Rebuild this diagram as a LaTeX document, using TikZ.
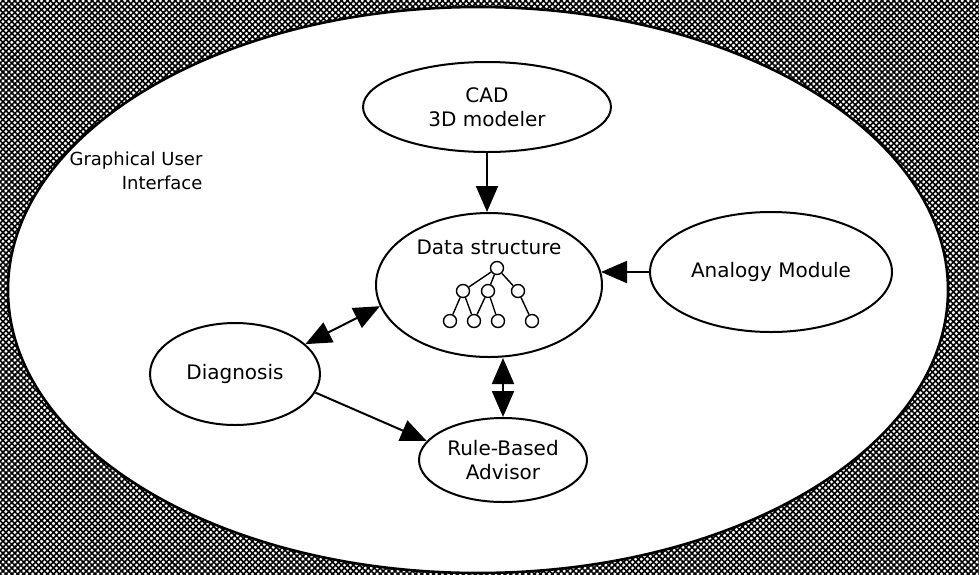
\documentclass[tikz,border=0pt]{standalone}
\usepackage{fontspec}
\setmainfont{DejaVu Sans}
\usetikzlibrary{positioning, arrows.meta, shapes.geometric, patterns.meta}

\begin{document}
\begin{tikzpicture}[
    x=0.5pt, y=-0.5pt,
    every node/.style={font=\fontsize{10}{12}\selectfont},
    module/.style={draw, ellipse, line width=1pt, fill=white,
                   inner sep=0pt, align=center},
    leaf/.style={draw, circle, line width=0.7pt, fill=white,
                 minimum size=6.5pt, inner sep=0pt},
    link/.style={line width=1pt},
    >={Triangle[length=13pt, width=11pt]},
  ]
  % hatched background
  \useasboundingbox (0,0) rectangle (979,574);
  \fill[white] (0,0) rectangle (979,574);
  \fill[pattern={Hatch[angle=45, distance=2.1pt, line width=0.8pt]}]
    (0,0) rectangle (979,574);

  \node[module, line width=1.3pt, minimum width=470pt,
        minimum height=283pt] (gui) at (478,290) {};
  \node[align=right, font=\fontsize{9}{12}\selectfont] (guitext)
    at (136,171) {Graphical User\\Interface};

  \node[module, minimum width=124pt, minimum height=45pt] (cad)
    at (487,107) {CAD\\3D modeler};
  \node[module, minimum width=113pt, minimum height=72pt] (data)
    at (489,285) {};
  \node (datatext) at (489,247) {Data structure};
  \node[module, minimum width=121pt, minimum height=60pt] (analogy)
    at (771,272) {Analogy Module};
  \node[module, minimum width=85pt, minimum height=51pt] (diag)
    at (235,374) {Diagnosis};
  \node[module, minimum width=84pt, minimum height=42pt] (rba)
    at (503,460) {Rule-Based\\Advisor};

  % tree inside the data structure
  \node[leaf] (root) at (497,268) {};
  \node[leaf] (mida) at (463,291) {};
  \node[leaf] (midb) at (488,291) {};
  \node[leaf] (midc) at (518,291) {};
  \node[leaf] (lowa) at (450,321) {};
  \node[leaf] (lowb) at (474,321) {};
  \node[leaf] (lowc) at (498,321) {};
  \node[leaf] (lowd) at (532,321) {};
  \draw[line width=0.7pt] (root) -- (mida) (root) -- (midb) (root) -- (midc)
    (mida) -- (lowa) (mida) -- (lowb) (midb) -- (lowb) (midb) -- (lowc)
    (midc) -- (lowd);

  \draw[link, ->] (cad.south) -- (cad.south |- data.north);
  \draw[link, ->] (analogy.west) -- ([xshift=-1pt]analogy.west -| data.east);
  \draw[link, <->] (diag.23) -- (data.191);
  \draw[link, <->] (rba.north |- data.south) -- (rba.north);
  \draw[link, ->] (diag.-13) -- (rba.166);
\end{tikzpicture}
\end{document}
